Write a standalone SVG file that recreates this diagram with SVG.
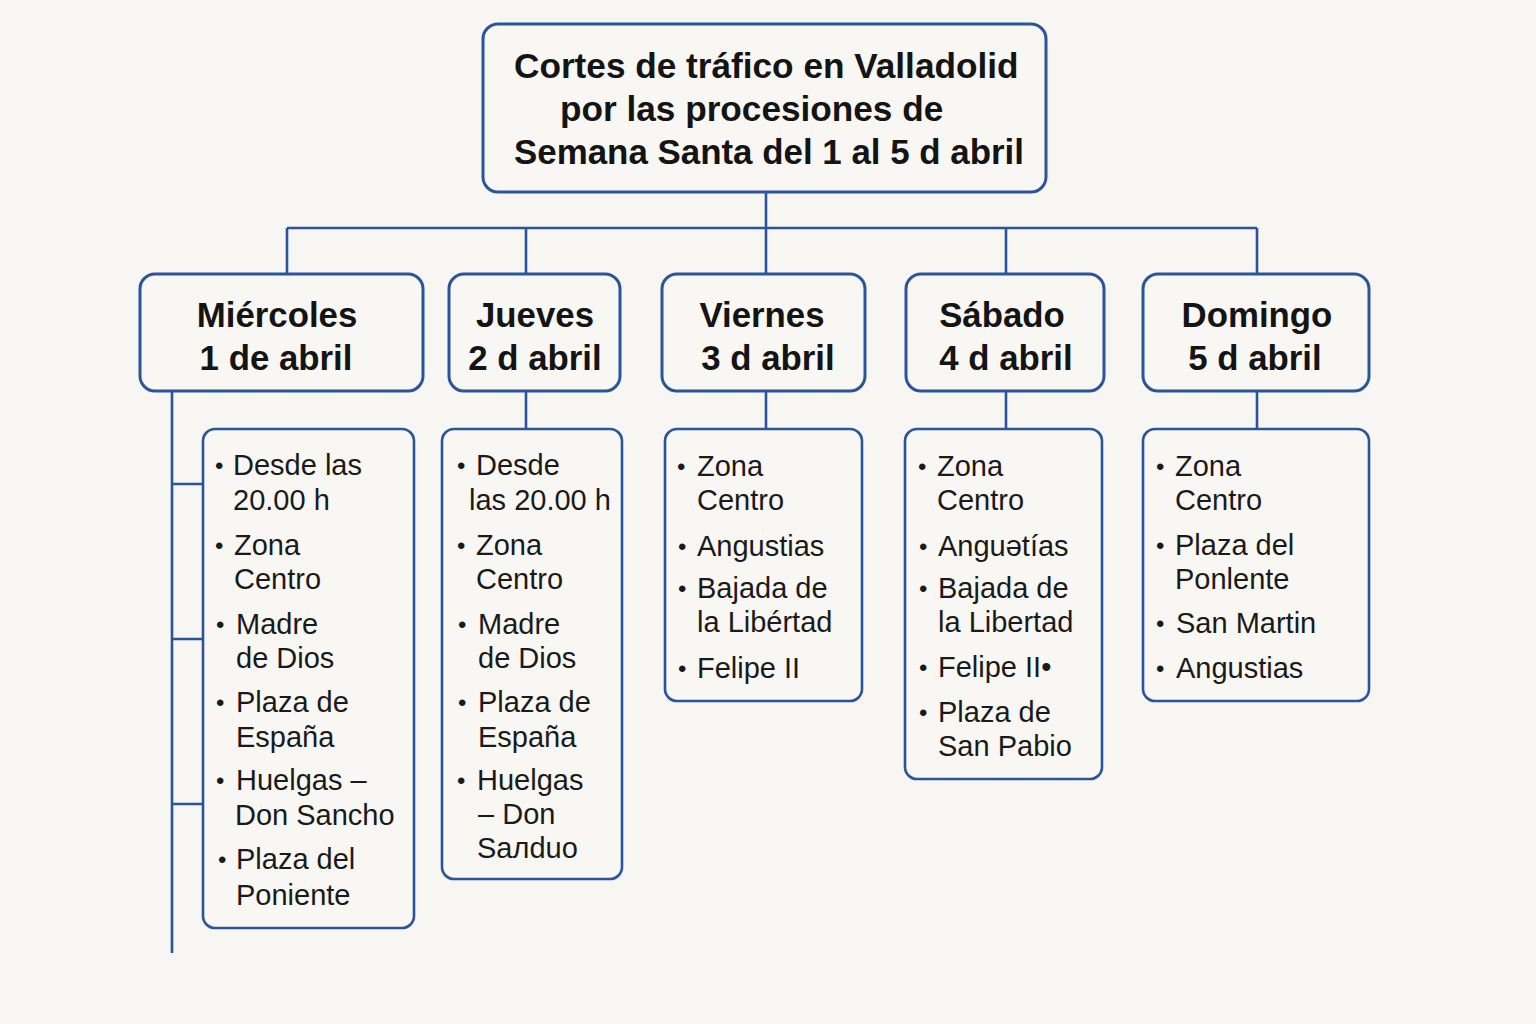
<svg xmlns="http://www.w3.org/2000/svg" width="1536" height="1024" viewBox="0 0 1536 1024">
<style>
.bg{fill:#f7f6f2}
.box{fill:#f8f7f3;stroke:#2b549c;stroke-width:3}
.dbox{fill:#f8f7f3;stroke:#2b549c;stroke-width:2.6}
.con{fill:none;stroke:#2b549c;stroke-width:2.6}
.title{font-family:"Liberation Sans",Arial,sans-serif;font-weight:bold;font-size:35.2px;fill:#141414}
.day{font-family:"Liberation Sans",Arial,sans-serif;font-weight:bold;font-size:34.8px;fill:#141414;text-anchor:middle}
.item{font-family:"Liberation Sans",Arial,sans-serif;font-size:29px;fill:#1a1a1a}
.bul{font-family:"Liberation Sans",Arial,sans-serif;font-size:24px;fill:#1a1a1a}
</style>
<rect class="bg" x="0" y="0" width="1536" height="1024"/>
<g id="connectors">
<path class="con" d="M766 192V228M287 228H1257M287 228V274M526 228V274M766 228V274M1006 228V274M1257 228V274"/>
<path class="con" d="M172 391V953M172 484H203M172 639H203M172 804H203"/>
<path class="con" d="M526 391V429M766 391V429M1006 391V429M1257 391V429"/>
</g>
<g id="title">
<rect class="box" x="483" y="24" width="563" height="168" rx="15"/>
<text class="title" x="514" y="78">Cortes de tráfico en Valladolid</text>
<text class="title" x="560" y="121">por las procesiones de</text>
<text class="title" x="514" y="164" style="font-size:34.9px">Semana Santa del 1 al 5 d abril</text>
</g>
<g id="day-miercoles">
<rect class="box" x="140" y="274" width="283" height="117" rx="15"/>
<text class="day" x="277" y="327">Miércoles</text>
<text class="day" x="276" y="370">1 de abril</text>
</g>
<g id="day-jueves">
<rect class="box" x="449" y="274" width="171" height="117" rx="15"/>
<text class="day" x="535" y="327">Jueves</text>
<text class="day" x="535" y="370">2 d abril</text>
</g>
<g id="day-viernes">
<rect class="box" x="662" y="274" width="203" height="117" rx="15"/>
<text class="day" x="762" y="327">Viernes</text>
<text class="day" x="768" y="370">3 d abril</text>
</g>
<g id="day-sabado">
<rect class="box" x="906" y="274" width="198" height="117" rx="15"/>
<text class="day" x="1002" y="327">Sábado</text>
<text class="day" x="1006" y="370">4 d abril</text>
</g>
<g id="day-domingo">
<rect class="box" x="1143" y="274" width="226" height="117" rx="15"/>
<text class="day" x="1257" y="327">Domingo</text>
<text class="day" x="1255" y="370">5 d abril</text>
</g>
<g id="list-miercoles">
<rect class="dbox" x="203" y="429" width="211" height="499" rx="12"/>
<text class="bul" x="215" y="474">•</text>
<text class="item" x="233" y="475">Desde las</text>
<text class="item" x="233" y="510">20.00 h</text>
<text class="bul" x="215" y="554">•</text>
<text class="item" x="234" y="555">Zona</text>
<text class="item" x="234" y="589">Centro</text>
<text class="bul" x="216" y="633">•</text>
<text class="item" x="236" y="634">Madre</text>
<text class="item" x="236" y="668">de Dios</text>
<text class="bul" x="216" y="711">•</text>
<text class="item" x="236" y="712">Plaza de</text>
<text class="item" x="236" y="747">España</text>
<text class="bul" x="216" y="789">•</text>
<text class="item" x="236" y="790">Huelgas –</text>
<text class="item" x="235" y="825">Don Sancho</text>
<text class="bul" x="218" y="868">•</text>
<text class="item" x="236" y="869">Plaza del</text>
<text class="item" x="236" y="905">Poniente</text>
</g>
<g id="list-jueves">
<rect class="dbox" x="442" y="429" width="180" height="450" rx="12"/>
<text class="bul" x="457" y="474">•</text>
<text class="item" x="476" y="475">Desde</text>
<text class="item" x="469" y="510">las 20.00 h</text>
<text class="bul" x="457" y="554">•</text>
<text class="item" x="476" y="555">Zona</text>
<text class="item" x="476" y="589">Centro</text>
<text class="bul" x="458" y="633">•</text>
<text class="item" x="478" y="634">Madre</text>
<text class="item" x="478" y="668">de Dios</text>
<text class="bul" x="458" y="711">•</text>
<text class="item" x="478" y="712">Plaza de</text>
<text class="item" x="478" y="747">España</text>
<text class="bul" x="457" y="789">•</text>
<text class="item" x="477" y="790">Huelgas</text>
<text class="item" x="478" y="824">– Don</text>
<text class="item" x="477" y="858">Saлduo</text>
</g>
<g id="list-viernes">
<rect class="dbox" x="665" y="429" width="197" height="272" rx="12"/>
<text class="bul" x="677" y="475">•</text>
<text class="item" x="697" y="476">Zona</text>
<text class="item" x="697" y="510">Centro</text>
<text class="bul" x="678" y="555">•</text>
<text class="item" x="697" y="556">Angustias</text>
<text class="bul" x="678" y="597">•</text>
<text class="item" x="697" y="598">Bajada de</text>
<text class="item" x="697" y="632">la Libértad</text>
<text class="bul" x="678" y="677">•</text>
<text class="item" x="697" y="678">Felipe II</text>
</g>
<g id="list-sabado">
<rect class="dbox" x="905" y="429" width="197" height="350" rx="12"/>
<text class="bul" x="918" y="475">•</text>
<text class="item" x="937" y="476">Zona</text>
<text class="item" x="937" y="510">Centro</text>
<text class="bul" x="919" y="555">•</text>
<text class="item" x="938" y="556">Anguətías</text>
<text class="bul" x="919" y="597">•</text>
<text class="item" x="938" y="598">Bajada de</text>
<text class="item" x="938" y="632">la Libertad</text>
<text class="bul" x="919" y="676">•</text>
<text class="item" x="938" y="677">Felipe II•</text>
<text class="bul" x="919" y="721">•</text>
<text class="item" x="938" y="722">Plaza de</text>
<text class="item" x="938" y="756">San Pabio</text>
</g>
<g id="list-domingo">
<rect class="dbox" x="1143" y="429" width="226" height="272" rx="12"/>
<text class="bul" x="1156" y="475">•</text>
<text class="item" x="1175" y="476">Zona</text>
<text class="item" x="1175" y="510">Centro</text>
<text class="bul" x="1156" y="554">•</text>
<text class="item" x="1175" y="555">Plaza del</text>
<text class="item" x="1175" y="589">Ponlente</text>
<text class="bul" x="1156" y="632">•</text>
<text class="item" x="1176" y="633">San Martin</text>
<text class="bul" x="1156" y="677">•</text>
<text class="item" x="1176" y="678">Angustias</text>
</g>
</svg>
